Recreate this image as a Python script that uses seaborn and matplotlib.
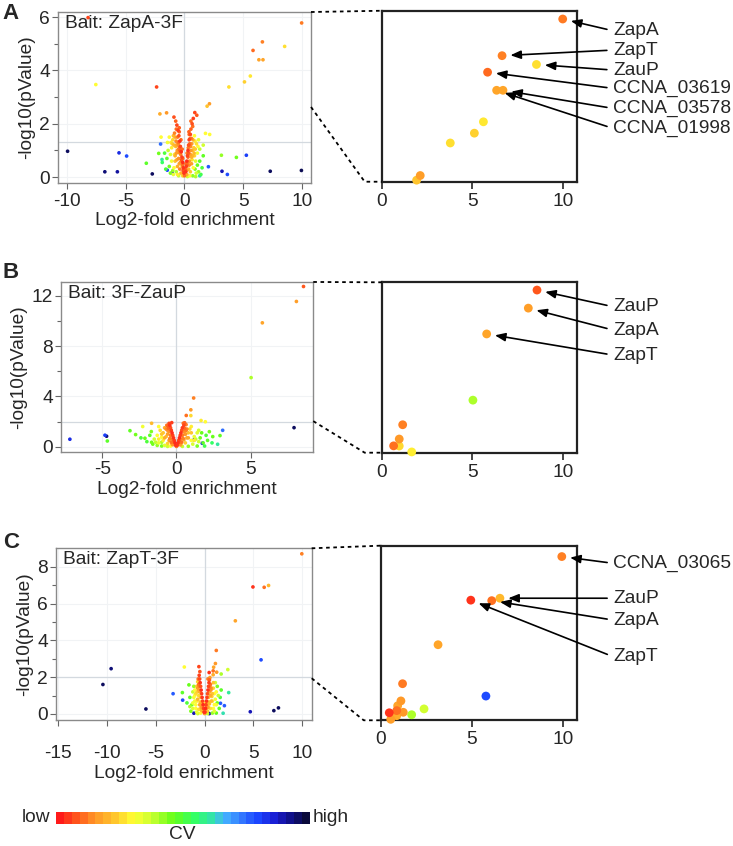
import numpy as np
import pandas as pd
import seaborn as sns
import matplotlib.pyplot as plt
from matplotlib.colors import LinearSegmentedColormap, ListedColormap, Normalize
from matplotlib.cm import ScalarMappable
from matplotlib.lines import Line2D

# ---------------- data ----------------
# panel A (bait ZapA-3F): labelled hits, other notable points, bulk cloud
A_HIT_NAMES = ["ZapA", "ZapT", "ZauP", "CCNA_03619", "CCNA_03578", "CCNA_01998"]
A_HIT_X = [10.0, 6.65, 8.55, 5.85, 6.7, 6.35]
A_HIT_Y = [5.78, 5.07, 4.9, 4.75, 4.4, 4.4]
A_HIT_CV = [0.11, 0.12, 0.26, 0.09, 0.17, 0.17]

A_OUT_X = [5.62, 5.12, 3.79, 2.13, 1.93, -8.23, -7.57, -2.38, -9.98, -6.8,
           -5.73, -5.59, -4.94, -2.75, -3.26, -2.04, -2.1, -1.53, 1.79, 2.15,
           3.15, 4.43, 5.28, 3.2, 3.66, 7.32, 9.98, -2.2, 2.04, 1.3,
           -1.47, -1.05, -1.92, -2.0]
A_OUT_Y = [3.79, 3.57, 3.38, 2.75, 2.66, 5.98, 3.47, 3.38, 0.97, 0.2,
           0.2, 0.91, 0.79, 0.12, 0.52, 1.24, 2.37, 2.41, 1.64, 1.6,
           0.82, 0.74, 0.82, 0.22, 0.1, 0.22, 0.25, 0.89, 0.39, 0.05,
           0.26, 0.16, 0.66, 1.5]
A_OUT_CV = [0.27, 0.24, 0.26, 0.16, 0.22, 0.05, 0.3, 0.05, 0.97, 0.95,
            0.92, 0.85, 0.8, 0.97, 0.48, 0.75, 0.18, 0.15, 0.3, 0.3,
            0.42, 0.45, 0.82, 0.9, 0.8, 0.97, 0.98, 0.45, 0.78, 0.62,
            0.8, 0.85, 0.6, 0.3]

A_CLOUD_X = [-0.05, -0.1, -0.15, -0.22, -0.28, -0.35, -0.4, -0.48, -0.55, -0.65,
             -0.75, -0.9, -0.3, -0.45, -0.6, -0.2,
             0.1, 0.15, 0.2, 0.25, 0.3, 0.35, 0.4, 0.5, 0.55, 0.65,
             0.75, 0.88, 1.05, 0.45, 0.6, 0.3,
             -0.12, -0.25, -0.38, -0.5, -0.7, 0.05, 0.2, 0.35, 0.48, 0.7,
             -0.6, -0.8, -0.9, -1.0, -1.1, -0.7, -0.5, -0.8, -0.6, -0.4,
             -0.9, -1.1, -1.2, -0.3, -0.6, -0.95, 0.0, 0.2, 0.5, 0.6,
             0.7, 0.8, 0.9, 0.55, 0.75, 0.95, 1.1, 1.0, 0.4, 0.85, 1.2,
             -1.3, -1.45, -0.75, -0.45, -0.2, 0.35, 0.65, -0.85, 0.45, -0.15,
             -1.3, -1.5, -1.7, -1.0, -1.2, -0.7, 0.9, 1.1, 1.3, 1.5,
             1.2, 1.6, 0.7, 1.4, -1.6, -1.9,
             -1.4, 1.3, 1.6, -0.5, 0.25, 0.95]
A_CLOUD_Y = [0.15, 0.35, 0.55, 0.75, 0.95, 1.15, 1.35, 1.55, 1.75, 1.95,
             2.1, 2.25, 1.4, 1.7, 1.5, 1.05,
             0.2, 0.4, 0.6, 0.8, 1.0, 1.2, 1.4, 1.6, 1.8, 2.0,
             2.2, 2.42, 2.32, 1.25, 1.45, 0.75,
             0.25, 0.65, 1.0, 1.3, 1.8, 0.3, 0.45, 0.9, 1.45, 1.9,
             1.3, 1.5, 1.2, 1.4, 1.1, 0.9, 0.7, 0.6, 0.4, 0.3,
             0.35, 0.6, 0.85, 0.15, 0.1, 0.1, 0.05, 0.1, 0.2, 0.5,
             0.8, 1.1, 1.35, 1.0, 0.35, 0.6, 0.9, 0.15, 0.45, 1.55, 1.4,
             1.5, 1.3, 1.15, 0.5, 0.4, 0.3, 0.65, 0.85, 0.05, 0.05,
             0.4, 0.7, 0.9, 0.25, 0.15, 0.2, 0.3, 0.45, 0.6, 0.35,
             0.2, 0.8, 0.05, 0.1, 0.3, 0.55,
             1.0, 1.05, 1.2, 0.05, 0.02, 0.02]
A_CLOUD_CV = [0.03, 0.03, 0.02, 0.04, 0.02, 0.05, 0.03, 0.06, 0.04, 0.05,
              0.08, 0.06, 0.1, 0.08, 0.12, 0.09,
              0.03, 0.04, 0.02, 0.05, 0.03, 0.06, 0.04, 0.05, 0.08, 0.06,
              0.04, 0.05, 0.07, 0.1, 0.12, 0.09,
              0.06, 0.07, 0.08, 0.1, 0.09, 0.07, 0.08, 0.07, 0.09, 0.1,
              0.15, 0.18, 0.2, 0.25, 0.28, 0.16, 0.14, 0.22, 0.18, 0.12,
              0.3, 0.32, 0.35, 0.2, 0.28, 0.33, 0.1, 0.18, 0.22, 0.16,
              0.2, 0.24, 0.28, 0.15, 0.3, 0.34, 0.32, 0.36, 0.13, 0.3, 0.33,
              0.3, 0.32, 0.2, 0.17, 0.22, 0.2, 0.26, 0.27, 0.3, 0.25,
              0.45, 0.48, 0.5, 0.42, 0.44, 0.4, 0.44, 0.46, 0.48, 0.5,
              0.42, 0.47, 0.43, 0.52, 0.5, 0.55,
              0.38, 0.38, 0.36, 0.37, 0.36, 0.4]
# extra orange points that thicken the V
A_FILL_X = [-0.18, -0.32, -0.42, -0.52, -0.62, -0.72, -0.85, -0.95, -1.05, -0.25,
            -0.4, -0.55, -0.7, -0.15, -0.35, -0.5, -0.8, -0.65, -1.15, -0.45,
            0.12, 0.22, 0.32, 0.42, 0.52, 0.62, 0.72, 0.82, 0.92, 1.02,
            0.28, 0.4, 0.5, 0.6, 0.18, 0.38, 0.7, 0.85, 1.15, 0.55]
A_FILL_Y = [0.45, 0.85, 1.1, 1.2, 1.0, 1.35, 1.65, 1.55, 1.25, 0.6,
            0.9, 0.95, 1.2, 0.7, 0.55, 1.05, 0.8, 0.65, 1.3, 1.85,
            0.5, 0.9, 1.1, 0.6, 1.15, 1.25, 1.4, 0.9, 1.05, 1.25,
            0.55, 1.6, 0.85, 0.75, 0.25, 1.7, 1.0, 0.8, 1.15, 2.1]
A_FILL_CV = [0.1, 0.12, 0.1, 0.14, 0.16, 0.13, 0.12, 0.2, 0.24, 0.11,
             0.13, 0.15, 0.18, 0.09, 0.15, 0.12, 0.19, 0.17, 0.27, 0.08,
             0.1, 0.12, 0.11, 0.15, 0.13, 0.16, 0.18, 0.2, 0.23, 0.26,
             0.12, 0.1, 0.17, 0.19, 0.14, 0.08, 0.21, 0.25, 0.3, 0.09]

# panel B (bait 3F-ZauP)
B_HIT_NAMES = ["ZauP", "ZapA", "ZapT"]
B_HIT_X = [8.58, 8.1, 5.8]
B_HIT_Y = [12.74, 11.55, 9.85]
B_HIT_CV = [0.07, 0.16, 0.17]

B_OUT_X = [5.04, 1.16, 0.97, 0.66, 0.97, 1.66, 7.94, -7.2, -4.83, -4.72,
           -4.67, -3.14, -2.76, -2.28, -1.68, -2.13, -1.68, 2.94, 3.12, 2.78,
           1.74, 1.18, 2.22, 2.45, 1.95]
B_OUT_Y = [5.49, 3.87, 2.93, 2.48, 2.47, 2.08, 1.51, 0.59, 0.91, 0.83,
           0.45, 1.27, 0.96, 1.6, 1.86, 0.67, 0.35, 0.88, 1.3, 0.19,
           0.27, 0.53, 1.19, 0.8, 1.98]
B_OUT_CV = [0.4, 0.12, 0.15, 0.1, 0.25, 0.28, 0.97, 0.85, 0.82, 0.95,
            0.48, 0.47, 0.45, 0.32, 0.2, 0.46, 0.45, 0.47, 0.75, 0.6,
            0.85, 0.95, 0.45, 0.46, 0.3]

B_CLOUD_X = [-0.05, -0.1, -0.15, -0.2, -0.25, -0.3, -0.35, -0.4, -0.45, -0.5,
             -0.32, -0.55,
             0.05, 0.1, 0.15, 0.2, 0.25, 0.3, 0.35, 0.4, 0.5, 0.55,
             0.46, 0.65,
             -0.6, -0.8, -0.9, -1.1, -1.3, -0.7, -0.5, -0.9, -0.6, -0.3,
             -1.2, -1.0, -1.5, -0.4, -0.8, 0.0, 0.3, 0.6, 0.7, 0.8,
             0.9, 0.6, 1.0, 1.2, 1.4, 1.1, 0.5, 1.0, 1.5, -1.2,
             -1.6, -1.8, -2.0, -1.3, -1.0, 1.6, 1.8, 2.0, 1.4, 1.9,
             2.1, 1.7, 0.8, -1.7, -2.4, 2.4,
             -1.4, 1.3, 1.5, -0.6, 0.4, -1.0]
B_CLOUD_Y = [0.1, 0.3, 0.5, 0.7, 0.9, 1.1, 1.3, 1.5, 1.7, 1.85,
             1.91, 1.6,
             0.1, 0.3, 0.5, 0.7, 0.9, 1.1, 1.3, 1.5, 1.7, 1.9,
             1.86, 1.75,
             1.3, 1.5, 1.1, 1.3, 0.9, 0.8, 0.5, 0.5, 0.25, 0.2,
             0.3, 0.75, 0.6, 0.05, 0.1, 0.02, 0.15, 0.3, 0.7, 1.1,
             1.4, 1.0, 0.5, 0.8, 1.1, 0.2, 0.55, 1.6, 0.4, 1.6,
             0.2, 0.9, 0.4, 0.1, 0.05, 0.7, 0.3, 0.9, 0.05, 0.05,
             0.5, 1.1, 0.03, 1.2, 0.7, 0.3,
             0.35, 0.6, 1.3, 0.02, 0.02, 0.35]
B_CLOUD_CV = [0.03, 0.02, 0.04, 0.03, 0.05, 0.02, 0.04, 0.06, 0.03, 0.05,
              0.04, 0.08,
              0.04, 0.03, 0.05, 0.02, 0.04, 0.03, 0.06, 0.04, 0.05, 0.08,
              0.1, 0.12,
              0.14, 0.18, 0.22, 0.26, 0.3, 0.2, 0.16, 0.28, 0.24, 0.18,
              0.33, 0.3, 0.36, 0.3, 0.34, 0.12, 0.2, 0.24, 0.18, 0.22,
              0.26, 0.15, 0.3, 0.33, 0.35, 0.35, 0.17, 0.28, 0.36, 0.3,
              0.45, 0.48, 0.5, 0.42, 0.44, 0.45, 0.47, 0.5, 0.44, 0.52,
              0.48, 0.46, 0.42, 0.44, 0.5, 0.55,
              0.38, 0.38, 0.36, 0.37, 0.38, 0.4]
B_FILL_X = [-0.2, -0.3, -0.4, -0.5, -0.6, -0.7, -0.8, -0.35, -0.45, -0.25,
            -0.55, -0.65, -1.0, -1.2, -0.15,
            0.2, 0.3, 0.4, 0.5, 0.6, 0.7, 0.8, 0.35, 0.45, 0.25,
            0.55, 0.65, 1.0, 1.2, 0.15]
B_FILL_Y = [0.4, 0.6, 0.9, 1.2, 1.0, 1.4, 0.7, 0.35, 0.65, 0.15,
            1.45, 1.7, 1.0, 0.6, 0.25,
            0.4, 0.6, 0.9, 1.2, 1.0, 1.4, 0.7, 0.35, 0.65, 0.15,
            1.45, 1.3, 1.1, 0.5, 0.25]
B_FILL_CV = [0.1, 0.12, 0.11, 0.14, 0.16, 0.13, 0.18, 0.1, 0.12, 0.15,
             0.09, 0.1, 0.22, 0.28, 0.14,
             0.1, 0.12, 0.11, 0.14, 0.16, 0.13, 0.18, 0.1, 0.12, 0.15,
             0.09, 0.12, 0.22, 0.28, 0.14]

# panel C (bait ZapT-3F)
C_HIT_NAMES = ["CCNA_03065", "ZauP", "ZapA", "ZapT"]
C_HIT_X = [9.95, 6.55, 6.1, 4.95]
C_HIT_Y = [8.7, 6.98, 6.88, 6.9]
C_HIT_CV = [0.12, 0.2, 0.1, 0.03]

C_OUT_X = [3.15, 1.2, 5.78, 2.38, 1.7, 1.11, 0.93, 0.88, 0.47, 1.24,
           0.88, 0.55, -9.56, -10.4, -6.0, -3.22, 4.68, 7.09, 7.56, -2.07,
           -0.58, -0.48, -2.24, 2.47, 2.03, 1.9, -1.09, 0.48, 1.63]
C_OUT_Y = [5.06, 3.45, 2.94, 2.41, 2.17, 2.74, 2.54, 2.34, 2.25, 2.27,
           2.13, 1.98, 2.46, 1.6, 0.27, 1.1, 0.12, 0.18, 0.33, 2.55,
           2.57, 2.3, 0.75, 1.16, 0.45, 0.04, 0.04, 0.02, 0.58]
C_OUT_CV = [0.17, 0.11, 0.8, 0.36, 0.4, 0.15, 0.17, 0.1, 0.03, 0.15,
            0.18, 0.16, 0.95, 0.97, 0.97, 0.78, 0.9, 0.97, 0.97, 0.3,
            0.05, 0.06, 0.8, 0.6, 0.78, 0.62, 0.9, 0.92, 0.78]

C_CLOUD_X = [-0.05, -0.1, -0.15, -0.2, -0.25, -0.3, -0.35, -0.4, -0.45, -0.5,
             -0.55, -0.6,
             0.05, 0.1, 0.15, 0.2, 0.25, 0.3, 0.35, 0.4, 0.45, 0.5,
             0.6, 0.35,
             -0.6, -0.8, -0.9, -1.0, -1.1, -0.7, -0.5, -0.9, -0.6, -0.3,
             -1.2, -1.0, -0.4, -0.8, 0.0, 0.3, 0.6, 0.7, 0.8, 0.9,
             0.6, 1.0, 1.1, 1.2, 1.0, 0.5, 0.9, -0.7, -0.3, 0.35,
             -1.3, -1.5, -1.6, -1.4, -2.27, -1.1, 1.3, 1.5, 1.6, 1.3,
             1.7, 1.2, -1.8, 0.8,
             -1.2, 1.4, -0.7, 0.3, -1.5, 1.1]
C_CLOUD_Y = [0.1, 0.3, 0.5, 0.7, 0.9, 1.1, 1.3, 1.5, 1.7, 1.9,
             2.1, 1.6,
             0.1, 0.3, 0.5, 0.7, 0.9, 1.1, 1.3, 1.5, 1.7, 1.85,
             1.6, 1.9,
             1.3, 1.5, 1.1, 1.3, 0.9, 0.8, 0.5, 0.5, 0.25, 0.2,
             0.3, 0.7, 0.05, 0.1, 0.02, 0.15, 0.3, 0.7, 1.1, 1.4,
             1.0, 0.5, 0.8, 1.2, 0.15, 0.55, 1.7, 1.75, 0.55, 0.4,
             0.5, 0.9, 1.58, 0.15, 1.16, 1.5, 0.6, 0.3, 0.9, 1.5,
             1.3, 0.05, 0.6, 0.05,
             1.2, 1.0, 0.02, 0.02, 0.4, 1.7]
C_CLOUD_CV = [0.03, 0.04, 0.02, 0.05, 0.03, 0.04, 0.02, 0.06, 0.03, 0.05,
              0.04, 0.1,
              0.04, 0.02, 0.05, 0.03, 0.04, 0.06, 0.03, 0.05, 0.04, 0.08,
              0.1, 0.12,
              0.18, 0.22, 0.26, 0.3, 0.32, 0.2, 0.17, 0.3, 0.26, 0.2,
              0.34, 0.32, 0.3, 0.33, 0.15, 0.22, 0.26, 0.2, 0.22, 0.25,
              0.18, 0.3, 0.32, 0.3, 0.34, 0.2, 0.22, 0.24, 0.22, 0.24,
              0.45, 0.47, 0.46, 0.44, 0.48, 0.42, 0.45, 0.47, 0.5, 0.44,
              0.48, 0.46, 0.5, 0.42,
              0.38, 0.38, 0.37, 0.38, 0.4, 0.36]
C_FILL_X = [-0.2, -0.3, -0.4, -0.5, -0.6, -0.7, -0.8, -0.9, -0.35, -0.45,
            -0.25, -0.55, -0.65, -1.0, -1.2, -0.15, -0.75,
            0.2, 0.3, 0.4, 0.5, 0.6, 0.7, 0.8, 0.9, 0.35,
            0.45, 0.25, 0.55, 0.65, 1.0, 1.2, 0.15, 0.75, 0.1]
C_FILL_Y = [0.4, 0.6, 0.9, 1.2, 1.0, 1.4, 0.7, 0.3, 0.35, 0.65,
            0.15, 1.5, 1.9, 1.0, 0.6, 0.25, 1.2,
            0.4, 0.6, 0.9, 1.2, 1.0, 1.4, 0.7, 0.3, 0.35,
            0.65, 0.15, 1.45, 1.3, 1.1, 0.5, 0.25, 0.95, 0.6]
C_FILL_CV = [0.15, 0.2, 0.22, 0.18, 0.25, 0.16, 0.28, 0.3, 0.17, 0.23,
             0.26, 0.12, 0.1, 0.3, 0.32, 0.2, 0.24,
             0.15, 0.2, 0.22, 0.18, 0.25, 0.16, 0.28, 0.3, 0.17,
             0.23, 0.26, 0.12, 0.14, 0.3, 0.32, 0.2, 0.24, 0.27]

# low CV -> red, high CV -> dark navy (stepped bar in the legend)
CV_STOPS = [0.0, 0.07, 0.15, 0.24, 0.3, 0.38, 0.46, 0.55, 0.62, 0.67, 0.74, 0.81, 0.88, 0.94, 1.0]
CV_COLORS = ["#ff1a1a", "#ff5a1c", "#ff9a28", "#ffd02e", "#ffff33", "#c4ff30", "#66ff1a",
             "#33ff66", "#33e0b0", "#44b0ff", "#3377ff", "#1a44ff", "#1a1ad0", "#101088", "#0a0a3a"]
CMAP = LinearSegmentedColormap.from_list("cv", list(zip(CV_STOPS, CV_COLORS)))

FS = 13.8


def frame(x, y, cv):
    df = pd.DataFrame({"x": x, "y": y, "cv": cv})
    return df.sort_values("cv", ascending=False)


def volcano(ax, df, xlim, ylim, thresh, xticks, yticks, yminor, bait, xpad=3):
    ax.axvline(0, color="#d3d9df", lw=0.9, zorder=1)
    ax.axhline(thresh, color="#d3d9df", lw=0.9, zorder=1)
    sns.scatterplot(data=df, x="x", y="y", hue="cv", palette=CMAP, hue_norm=(0, 1),
                    s=7, linewidth=0, legend=False, ax=ax, zorder=3)
    ax.set_xlim(*xlim)
    ax.set_ylim(*ylim)
    ax.set_xticks(xticks)
    ax.set_yticks(yticks)
    ax.set_yticks(yminor, minor=True)
    ax.grid(True, color="#f1f3f5", lw=0.8, zorder=0)
    for sp in ax.spines.values():
        sp.set_color("#8a8a8a")
        sp.set_linewidth(1.0)
    ax.tick_params(which="both", direction="out", color="#666666", width=0.8,
                   labelsize=FS, left=True, bottom=True)
    ax.tick_params(which="major", length=4)
    ax.tick_params(which="minor", length=3)
    ax.tick_params(axis="x", pad=xpad)
    ax.tick_params(axis="y", pad=2)
    ax.set_xlabel("Log2-fold enrichment", fontsize=FS, labelpad=2)
    ax.set_ylabel("-log10(pValue)", fontsize=FS, labelpad=3)
    ax.text(0.028, 0.985, "Bait: " + bait, transform=ax.transAxes, ha="left", va="top",
            fontsize=FS, zorder=5)


def zoom_panel(ax, df, ylim, names, hx, hy, text_y):
    keep = df[(df.x >= 0) & (df.y >= ylim[0])]
    sns.scatterplot(data=keep, x="x", y="y", hue="cv", palette=CMAP, hue_norm=(0, 1),
                    s=40, linewidth=0, legend=False, ax=ax, zorder=3, clip_on=False)
    ax.set_xlim(0, 10.77)
    ax.set_ylim(*ylim)
    ax.set_xticks([0, 5, 10])
    ax.set_yticks([])
    ax.set_xlabel("")
    ax.set_ylabel("")
    for sp in ax.spines.values():
        sp.set_color("#222222")
        sp.set_linewidth(1.6)
    ax.tick_params(axis="x", direction="out", length=5, width=1.2, labelsize=FS, pad=3,
                   bottom=True)
    for name, x, y, ty in zip(names, hx, hy, text_y):
        ax.annotate(name, xy=(x, y), xytext=(1.186, ty), textcoords="axes fraction",
                    ha="left", va="center", fontsize=FS, annotation_clip=False,
                    arrowprops=dict(arrowstyle="-|>,head_length=0.45,head_width=0.18",
                                    color="black", lw=1.2, shrinkA=2, shrinkB=6,
                                    relpos=(0, 0.5)))


def connect(fig, ax_l, ax_r, ylo_frac):
    inv = fig.transFigure.inverted()
    p_top_l = inv.transform(ax_l.transAxes.transform((1, 1)))
    p_top_r = inv.transform(ax_r.transAxes.transform((0, 1)))
    p_low_l = inv.transform(ax_l.transAxes.transform((1, ylo_frac)))
    p_low_r = inv.transform(ax_r.transAxes.transform((0, 0)))
    kink = p_low_r[0] - 17 / 733
    style = dict(color="black", lw=1.3, linestyle=(0, (2, 2)), transform=fig.transFigure)
    fig.add_artist(Line2D([p_top_l[0], p_top_r[0]], [p_top_l[1], p_top_r[1]], **style))
    fig.add_artist(Line2D([p_low_l[0], kink, p_low_r[0]],
                          [p_low_l[1], p_low_r[1], p_low_r[1]], **style))


sns.set_theme(style="white")
plt.rcParams["font.family"] = ["Liberation Sans", "DejaVu Sans"]
plt.rcParams["axes.unicode_minus"] = False

fig = plt.figure(figsize=(7.33, 8.46), dpi=100)

panels = [
    dict(letter="A", letter_y=1 - 3 / 846,
         left=[0.0791, 0.7837, 0.3452, 0.2021], right=[0.5207, 0.7852, 0.2660, 0.2021],
         df=frame(A_HIT_X + A_OUT_X + A_CLOUD_X + A_FILL_X,
                  A_HIT_Y + A_OUT_Y + A_CLOUD_Y + A_FILL_Y,
                  A_HIT_CV + A_OUT_CV + A_CLOUD_CV + A_FILL_CV),
         xlim=(-10.8, 10.8), ylim=(-0.22, 6.19), thresh=1.3,
         xticks=[-10, -5, 0, 5, 10], yticks=[0, 2, 4, 6], yminor=[1, 3, 5],
         bait="ZapA-3F", rylim=(2.63, 5.94), names=A_HIT_NAMES, hx=A_HIT_X, hy=A_HIT_Y,
         text_y=[0.883, 0.770, 0.653, 0.546, 0.429, 0.312], xpad=3),
    dict(letter="B", letter_y=1 - 262 / 846,
         left=[0.0832, 0.4661, 0.3442, 0.2006], right=[0.5207, 0.4649, 0.2660, 0.2014],
         df=frame(B_HIT_X + B_OUT_X + B_CLOUD_X + B_FILL_X,
                  B_HIT_Y + B_OUT_Y + B_CLOUD_Y + B_FILL_Y,
                  B_HIT_CV + B_OUT_CV + B_CLOUD_CV + B_FILL_CV),
         xlim=(-7.8, 9.24), ylim=(-0.4, 13.1), thresh=2.0,
         xticks=[-5, 0, 5], yticks=[0, 4, 8, 12], yminor=[2, 6, 10],
         bait="3F-ZauP", rylim=(2.03, 13.25), names=B_HIT_NAMES, hx=B_HIT_X, hy=B_HIT_Y,
         text_y=[0.857, 0.72, 0.573], xpad=3),
    dict(letter="C", letter_y=1 - 532 / 846,
         left=[0.0764, 0.1489, 0.3488, 0.2030], right=[0.5194, 0.1486, 0.2674, 0.2064],
         df=frame(C_HIT_X + C_OUT_X + C_CLOUD_X + C_FILL_X,
                  C_HIT_Y + C_OUT_Y + C_CLOUD_Y + C_FILL_Y,
                  C_HIT_CV + C_OUT_CV + C_CLOUD_CV + C_FILL_CV),
         xlim=(-15.2, 10.96), ylim=(-0.33, 9.0), thresh=2.0,
         xticks=[-15, -10, -5, 0, 5, 10], yticks=[0, 2, 4, 6, 8], yminor=[1, 3, 5, 7],
         bait="ZapT-3F", rylim=(1.94, 9.15), names=C_HIT_NAMES, hx=C_HIT_X, hy=C_HIT_Y,
         text_y=[0.899, 0.699, 0.574, 0.364], xpad=14),
]

for p in panels:
    ax_l = fig.add_axes(p["left"])
    ax_r = fig.add_axes(p["right"])
    volcano(ax_l, p["df"], p["xlim"], p["ylim"], p["thresh"], p["xticks"], p["yticks"],
            p["yminor"], p["bait"], xpad=p["xpad"])
    zoom_panel(ax_r, p["df"], p["rylim"], p["names"], p["hx"], p["hy"], p["text_y"])
    ylo_frac = (p["rylim"][0] - p["ylim"][0]) / (p["ylim"][1] - p["ylim"][0])
    connect(fig, ax_l, ax_r, ylo_frac)
    fig.text(0.004, p["letter_y"], p["letter"], fontsize=16, fontweight="bold",
             ha="left", va="top")

# CV colour key
cax = fig.add_axes([0.076, 0.026, 0.347, 0.0142])
stepped = ListedColormap(CMAP(np.linspace(0, 1, 32)))
cb = fig.colorbar(ScalarMappable(norm=Normalize(0, 1), cmap=stepped), cax=cax,
                  orientation="horizontal")
cb.set_ticks([])
cb.outline.set_visible(False)
fig.text(0.069, 0.026 + 0.0071, "low", fontsize=FS, ha="right", va="center")
fig.text(0.427, 0.026 + 0.0071, "high", fontsize=FS, ha="left", va="center")
fig.text(0.249, 0.024, "CV", fontsize=FS, ha="center", va="top")

fig.savefig("out.png", dpi=100)
